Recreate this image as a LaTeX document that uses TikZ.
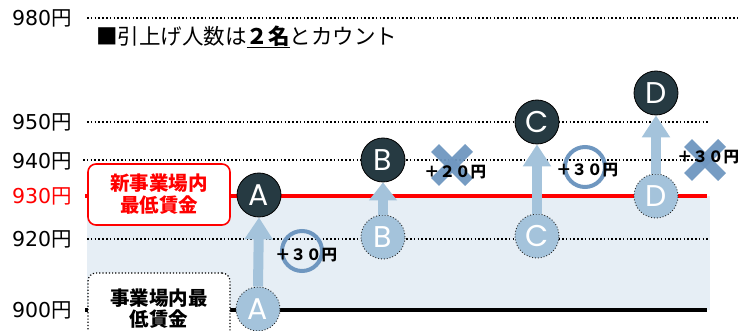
\documentclass[tikz,border=0pt]{standalone}
\usepackage{fontspec}
\newfontfamily\jp{Noto Sans CJK JP}
\newfontfamily\numf{DejaVu Sans}
\newfontfamily\letf{Poppins}
\usetikzlibrary{arrows.meta}
\definecolor{darkc}{HTML}{263A42}
\definecolor{lightc}{HTML}{A4C3DB}
\definecolor{bandc}{HTML}{E6EEF5}
\definecolor{markc}{HTML}{6F97C0}
\definecolor{redc}{HTML}{FF0000}
\newcommand\myyen{{\jp 円}}
\begin{document}
\begin{tikzpicture}[x=1pt,y=-1pt,
  ylab/.style={anchor=east, inner sep=0, font=\numf\fontsize{20.5}{20.5}\selectfont},
  dotline/.style={line width=1.7pt, dash pattern=on 1.6pt off 2.2pt, black},
  darknode/.style={circle, fill=darkc, draw=black, line width=0.8pt, minimum size=44pt, inner sep=0, text=white, font=\letf\fontsize{30}{30}\selectfont},
  lightnode/.style={circle, fill=lightc, draw=black!85, dotted, line width=0.9pt, minimum size=44pt, inner sep=0, text=white, font=\letf\fontsize{30}{30}\selectfont},
  uparrow/.style={draw=lightc, line width=10pt, -{Triangle[width=27pt,length=22pt]}},
  ring/.style={circle, draw=markc, line width=4pt, minimum size=40pt, inner sep=0},
  xmark/.style={draw=markc, line width=11pt, opacity=0.95},
  plus/.style={inner sep=0, font=\jp\bfseries\fontsize{15.5}{15.5}\selectfont},
  redbox/.style={rectangle, rounded corners=8pt, draw=redc, line width=1.6pt, fill=white, minimum width=142pt, minimum height=61pt, align=center, text=redc, font=\jp\bfseries\fontsize{19.5}{22}\selectfont},
  oldbox/.style={rectangle, rounded corners=8pt, draw=black, dotted, line width=1.2pt, fill=white, minimum width=142pt, minimum height=72pt, align=center, text=black, font=\jp\bfseries\fontsize{19.5}{21}\selectfont}
]
\useasboundingbox (0,0) rectangle (740,331);
% band
\fill[bandc] (87,196) rectangle (710,310);
% scale lines
\coordinate (l980a) at (87,18);  \coordinate (l980b) at (738,18);
\coordinate (l950a) at (87,122); \coordinate (l950b) at (710,122);
\coordinate (l940a) at (83,160); \coordinate (l940b) at (713,160);
\coordinate (l920a) at (87,239); \coordinate (l920b) at (710,239);
\coordinate (l930a) at (85,196); \coordinate (l930b) at (707,196);
\coordinate (l900a) at (85,310); \coordinate (l900b) at (707,310);
\draw[dotline] (l980a) -- (l980b);
\draw[dotline] (l950a) -- (l950b);
\draw[dotline] (l940a) -- (l940b);
\draw[dotline] (l920a) -- (l920b);
\draw[redc, line width=4pt] (l930a) -- (l930b);
\draw[black, line width=4pt] (l900a) -- (l900b);
% y labels
\node[ylab] (y980) at (72,18) {980\myyen};
\node[ylab] (y950) at (72,122) {950\myyen};
\node[ylab] (y940) at (72,161) {940\myyen};
\node[ylab, text=redc] (y930) at (72,196) {930\myyen};
\node[ylab] (y920) at (72,239) {920\myyen};
\node[ylab] (y900) at (72,310) {900\myyen};
% title
\node[anchor=west, inner sep=0, font=\jp\fontsize{21.5}{21.5}\selectfont] (title) at (96,37) {■引上げ人数は{\bfseries\underline{２名}}とカウント};
% boxes
\node[redbox] (newbox) at (159,194.5) {新事業場内\\最低賃金};
\node[oldbox] (oldbox) at (159,309) {事業場内最\\低賃金};
% marks
\node[ring] (ringA) at (302,251) {};
\node[ring] (ringC) at (585,167) {};
\coordinate (xB) at (452,165);
\coordinate (xD) at (705,160);
\draw[xmark] ([shift={(-17,-17)}]xB) -- ([shift={(17,17)}]xB);
\draw[xmark] ([shift={(-17,17)}]xB) -- ([shift={(17,-17)}]xB);
\draw[xmark] ([shift={(-17,-17)}]xD) -- ([shift={(17,17)}]xD);
\draw[xmark] ([shift={(-17,17)}]xD) -- ([shift={(17,-17)}]xD);
% circles
\node[lightnode] (A0) at (258,309) {A};
\node[darknode]  (A1) at (259,195) {A};
\node[lightnode] (B0) at (383,237) {B};
\node[darknode]  (B1) at (383,160) {B};
\node[lightnode] (C0) at (537,236) {C};
\node[darknode]  (C1) at (537,122) {C};
\node[lightnode] (D0) at (656,196) {D};
\node[darknode]  (D1) at (656,93) {D};
% arrows
\draw[uparrow] (A0.north) -- (A1.south);
\draw[uparrow, -{Triangle[width=27pt,length=18pt]}] (B0.north) -- (B1.south);
\draw[uparrow] (C0.north) -- (C1.south);
\draw[uparrow] (D0.north) -- (D1.south);
% amounts
\node[plus] (pA) at (306,255) {＋３０円};
\node[plus] (pB) at (455,172) {＋２０円};
\node[plus] (pC) at (587,170) {＋３０円};
\node[plus] (pD) at (708,157) {＋３０円};
\end{tikzpicture}
\end{document}
